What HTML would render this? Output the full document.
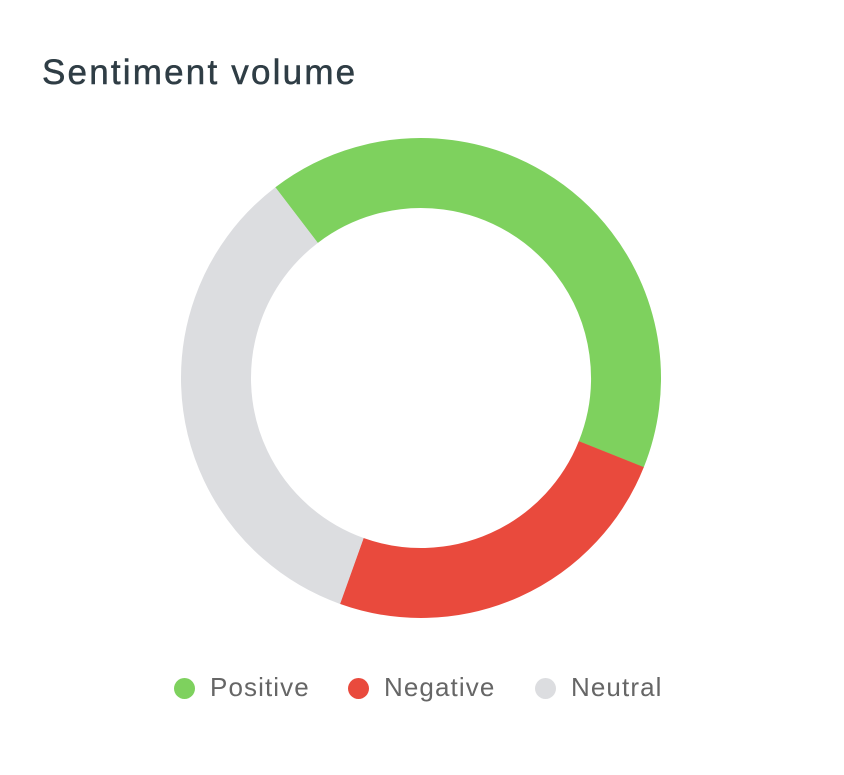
<!DOCTYPE html>
<html><head><style>
body{margin:0;background:#fff;width:844px;height:775px;overflow:hidden;font-family:"Liberation Sans",sans-serif}
.t{position:absolute;left:42px;top:53px;font-size:35px;color:#2f3d45;letter-spacing:2.2px;-webkit-text-stroke:0.5px #2f3d45}
.lg{position:absolute;top:672px;font-size:26px;color:#666;letter-spacing:1.1px}
.d{position:absolute;top:678px;width:21px;height:21px;border-radius:50%}
</style></head><body>
<div class="t">Sentiment volume</div>
<svg width="844" height="775" style="position:absolute;left:0;top:0">
<g transform="translate(421,378)" fill="none" stroke-width="70">
<circle r="205" stroke="#7ed15e" stroke-dasharray="533.8 2000" transform="rotate(-127.4)"/>
<circle r="205" stroke="#e94a3d" stroke-dasharray="314.5 2000" transform="rotate(21.8)"/>
<circle r="205" stroke="#dcdde0" stroke-dasharray="439.8 2000" transform="rotate(109.7)"/>
</g></svg>
<div class="d" style="left:174px;background:#7ed15e"></div><div class="lg" style="left:210px">Positive</div>
<div class="d" style="left:348px;background:#e94a3d"></div><div class="lg" style="left:384px">Negative</div>
<div class="d" style="left:535px;background:#dcdde0"></div><div class="lg" style="left:571px">Neutral</div>
</body></html>
